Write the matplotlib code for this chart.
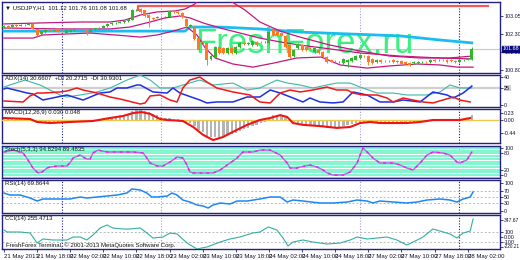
import matplotlib
matplotlib.use('Agg')
import matplotlib.pyplot as plt
import matplotlib.transforms as mtransforms
import numpy as np

# ---------------- data ----------------
opens = [102.59,102.63,102.61,102.68,102.64,102.69,102.68,102.72,102.50,102.30,
         102.38,102.47,102.45,102.47,102.43,102.36,102.40,102.46,102.48,102.47,
         102.47,102.38,102.49,102.53,102.55,102.63,102.71,102.75,102.77,102.79,
         102.84,102.90,103.30,103.34,103.28,103.09,102.97,102.98,103.01,103.00,
         103.01,103.24,103.22,103.18,102.93,102.65,102.59,102.13,101.97,101.93,
         101.26,101.30,101.76,101.72,101.51,101.72,101.51,101.76,101.93,101.88,
         101.84,101.97,101.97,101.95,101.93,102.47,102.43,102.34,102.22,101.84,
         101.38,101.72,101.84,101.76,101.72,101.55,101.63,101.55,101.34,101.22,
         101.18,101.13,101.09,101.13,101.18,101.22,101.30,101.38,101.38,101.26,
         101.13,101.22,101.18,101.18,101.22,101.18,101.18,101.13,101.09,101.09,
         101.09,101.13,101.13,101.13,101.22,101.20,101.22,101.22,101.22,101.18,
         101.13,101.22,101.23,101.26]
closes = [102.63,102.59,102.68,102.64,102.69,102.68,102.70,102.50,102.27,102.42,
          102.47,102.45,102.47,102.43,102.40,102.47,102.46,102.49,102.47,102.46,
          102.35,102.49,102.53,102.55,102.63,102.71,102.75,102.77,102.80,102.86,
          102.92,103.30,103.31,103.22,103.05,102.97,102.93,103.01,103.00,103.02,
          103.26,103.22,103.18,103.01,102.63,102.67,102.09,101.63,101.93,101.22,
          101.38,101.76,101.51,101.51,101.72,101.51,101.76,101.93,101.88,101.92,
          102.01,101.84,101.95,101.97,102.38,102.26,102.26,102.22,101.76,101.34,
          101.63,101.88,101.63,101.63,101.70,101.72,101.51,101.34,101.13,101.15,
          101.17,101.15,101.26,101.22,101.30,101.38,101.43,101.37,101.13,101.09,
          101.22,101.13,101.17,101.19,101.13,101.13,101.05,101.05,101.01,101.13,
          101.13,101.14,101.12,101.22,101.18,101.22,101.21,101.13,101.18,101.13,
          101.22,101.23,101.26,101.68]
highs = [102.66,102.66,102.70,102.71,102.72,102.72,102.73,102.75,102.52,102.45,
         102.50,102.50,102.50,102.49,102.46,102.50,102.49,102.52,102.50,102.49,
         102.49,102.51,102.56,102.58,102.66,102.74,102.78,102.80,102.83,102.89,
         102.95,103.33,103.36,103.38,103.30,103.12,103.00,103.04,103.04,103.05,
         103.29,103.27,103.25,103.21,102.97,102.71,102.63,102.17,102.01,101.97,
         101.42,101.80,101.80,101.76,101.76,101.76,101.80,101.97,101.97,101.95,
         102.05,102.01,102.00,102.00,102.43,102.51,102.47,102.38,102.26,101.88,
         101.67,101.92,101.88,101.80,101.75,101.76,101.67,101.59,101.38,101.25,
         101.21,101.18,101.30,101.26,101.34,101.42,101.47,101.41,101.42,101.30,
         101.26,101.25,101.21,101.22,101.25,101.21,101.21,101.16,101.12,101.16,
         101.16,101.17,101.16,101.25,101.25,101.25,101.24,101.25,101.25,101.21,
         101.25,101.26,101.29,101.76]
lows = [102.56,102.55,102.58,102.61,102.62,102.65,102.66,102.45,102.22,102.27,
        102.35,102.42,102.43,102.40,102.37,102.34,102.38,102.44,102.45,102.44,
        102.26,102.36,102.47,102.51,102.53,102.61,102.69,102.73,102.75,102.77,
        102.82,102.88,103.27,103.18,102.99,102.59,102.88,102.95,102.97,102.97,
        102.99,103.19,103.15,102.97,102.59,102.60,102.05,101.59,101.84,101.01,
        101.20,101.28,101.47,101.47,101.47,101.47,101.47,101.72,101.84,101.85,
        101.80,101.80,101.92,101.92,101.90,102.22,102.22,102.18,101.72,101.30,
        101.34,101.68,101.59,101.59,101.67,101.51,101.47,101.30,101.09,101.12,
        101.14,101.10,101.05,100.92,101.15,101.20,101.27,101.34,101.02,101.05,
        101.10,101.10,101.14,101.15,101.10,101.10,101.02,101.02,100.98,101.06,
        101.06,101.10,101.09,101.10,101.15,101.17,101.18,101.10,101.15,101.09,
        101.10,101.19,101.20,101.23]

ub_bar = [0, 8.7, 18.4, 25.6, 29.2, 32.9, 37.0, 41.3, 43.7, 46.1, 48.1, 50.5, 53.1, 55.1,
          58.2, 61.8, 66.7, 71.5, 78.7, 86.0, 93.2, 100.5, 107.7, 113.0]
ub_val = [102.72, 102.76, 102.80, 102.80, 102.88, 103.09, 103.22, 103.26, 103.34, 103.55,
          103.88, 104.40, 103.88, 103.63, 103.30, 102.80, 102.42, 102.17, 101.84, 101.59,
          101.38, 101.30, 101.30, 101.38]
mb_bar = [0, 13.5, 25.6, 30.4, 35.3, 38.9, 42.5, 44.9, 48.1, 52.2, 57.0, 61.8, 66.7, 71.5,
          78.7, 86.0, 95.7, 105.3, 113.0]
mb_val = [102.55, 102.51, 102.51, 102.59, 102.80, 102.97, 103.05, 102.97, 102.76, 102.55,
          102.34, 102.13, 101.97, 101.84, 101.68, 101.51, 101.38, 101.30, 101.26]
lb_bar = [0, 7.0, 9.4, 20.8, 29.7, 32.9, 37.0, 40.8, 44.2, 46.6, 48.6, 51.0, 55.3, 60.1,
          65.2, 70.7, 76.6, 81.2, 87.7, 93.2, 99.8, 105.3, 109.4, 113.3]
lb_val = [102.13, 102.13, 102.26, 102.34, 102.22, 102.17, 102.26, 102.42, 102.59, 102.26,
          101.72, 101.30, 101.05, 100.92, 101.09, 101.30, 101.34, 101.01, 100.88, 100.97,
          101.05, 101.01, 100.92, 100.92]
ma_bar = [0, 43.7, 44.9, 52.2, 61.8, 71.5, 83.6, 95.7, 105.3, 113.0]
ma_val = [102.42, 102.42, 102.59, 102.59, 102.51, 102.38, 102.30, 102.22, 102.05, 101.93]
lvl_bar = [32.4, 32.4, 117.0]
lvl_val = [103.30, 103.47, 103.47]
last_price = 101.68
price_ticks = [103.05, 102.30, 101.55, 100.80]

adx_bar = [0, 1.4, 5.1, 8.7, 13.5, 15.2, 18.4, 22.5, 25.6, 29.7, 32.9, 35.3, 37.7, 40.8, 43.2,
           47.3, 50.5, 55.3, 58.7, 61.8, 65.9, 68.4, 71.5, 74.6, 78.0, 80.4, 83.6, 86.0, 90.1,
           94.0, 97.3, 102.2, 105.3, 107.7, 110.1, 113.0]
adx_val = [25.7, 28.6, 35.7, 28.6, 14.3, 11.4, 14.3, 18.6, 24.3, 35.7, 42.9, 35.7, 24.3, 24.3,
           28.6, 35.7, 28.6, 31.4, 21.4, 24.3, 35.7, 31.4, 28.6, 24.3, 28.6, 31.4, 31.4, 25.7,
           17.1, 17.1, 14.3, 14.3, 18.6, 28.6, 24.3, 24.3]
pdi_bar = [0, 0.7, 2.7, 5.6, 7.0, 9.4, 15.2, 19.1, 23.2, 25.6, 27.3, 29.7, 32.1, 32.9, 36.0,
           39.4, 40.8, 42.5, 47.3, 49.0, 51.4, 55.3, 58.7, 61.8, 64.3, 66.7, 69.8, 72.2, 73.9,
           76.3, 79.5, 81.9, 84.3, 87.7, 90.8, 94.0, 96.4, 100.5, 103.6, 107.0, 108.5, 110.9, 113.0]
pdi_val = [22.9, 24.3, 21.4, 17.1, 15.7, 7.1, 14.3, 7.1, 17.1, 18.6, 24.3, 24.3, 28.6, 28.6,
           18.6, 17.1, 24.3, 17.1, 7.1, 2.9, 4.3, 4.3, 11.4, 11.4, 21.4, 17.1, 10.0, 4.3, 10.0,
           4.3, 2.9, 4.3, 18.6, 14.3, 4.3, 4.3, 7.1, 4.3, 18.6, 14.3, 10.0, 17.1, 27.1]
mdi_bar = [0, 4.6, 6.3, 8.0, 9.4, 13.5, 15.2, 17.6, 19.1, 22.5, 25.6, 28.0, 32.9, 34.1, 35.3,
           37.7, 40.1, 41.8, 43.2, 44.9, 47.3, 49.0, 51.4, 55.3, 59.4, 61.8, 64.3, 66.7, 69.1,
           71.5, 74.6, 78.0, 80.4, 82.9, 84.3, 86.7, 90.1, 92.5, 94.0, 96.4, 98.8, 101.2, 103.6,
           108.5, 110.1, 112.6]
mdi_val = [5.7, 4.3, 12.9, 17.1, 17.1, 18.6, 20.0, 24.3, 21.4, 17.1, 11.4, 8.6, 1.4, 2.9, 12.9,
           14.3, 7.1, 4.3, 24.3, 35.7, 40.0, 32.9, 24.3, 18.6, 14.3, 4.3, 2.9, 17.1, 21.4, 18.6,
           21.4, 25.7, 21.4, 21.4, 17.1, 14.3, 14.3, 10.0, 4.3, 10.0, 7.1, 4.3, 2.9, 11.4, 7.1, 4.3]

macd_hist = [0.07,0.07,0.06,0.06,0.05,0.05,0.04,
             -0.04,-0.10,-0.11,-0.10,-0.09,-0.08,-0.07,
             -0.06,-0.05,-0.04,-0.03,-0.03,-0.03,-0.05,
             -0.03,-0.01,0.01,0.04,0.07,0.10,0.13,
             0.15,0.18,0.21,0.28,0.32,0.33,0.30,
             0.25,0.20,0.15,0.10,0.06,0.06,0.04,
             0.02,0.00,-0.06,-0.10,-0.20,-0.32,-0.40,
             -0.52,-0.56,-0.55,-0.55,-0.54,-0.50,-0.47,
             -0.42,-0.36,-0.30,-0.25,-0.20,-0.15,-0.10,
             -0.05,0.08,0.16,0.18,0.17,0.10,-0.03,
             -0.08,-0.10,-0.14,-0.16,-0.18,-0.19,-0.21,
             -0.23,-0.25,-0.25,-0.24,-0.22,-0.19,-0.16,
             -0.13,-0.10,-0.08,-0.07,-0.09,-0.11,-0.10,
             -0.10,-0.09,-0.08,-0.09,-0.09,-0.10,-0.10,
             -0.11,-0.09,-0.08,-0.07,-0.06,-0.04,-0.03,
             -0.02,-0.01,-0.02,-0.02,-0.03,-0.01,0.00,
             0.02,0.15]
sig_bar = [0, 6.3, 8.0, 11.1, 15.9, 21.5, 25.6, 28.7, 31.2, 33.3, 35.3, 37.7, 39.4, 43.2, 45.7,
           48.1, 50.5, 52.9, 55.3, 58.7, 61.8, 64.3, 66.7, 68.4, 69.8, 72.2, 76.3, 80.4, 83.6,
           86.0, 88.4, 90.8, 94.0, 97.3, 100.5, 103.6, 110.1, 112.6]
sig_val = [0.066, 0.033, -0.066, -0.099, -0.066, -0.033, 0.066, 0.13, 0.23, 0.26, 0.20, 0.033,
           0.0, -0.033, -0.23, -0.49, -0.66, -0.56, -0.39, -0.16, 0.0, 0.066, 0.16, 0.10, -0.10,
           -0.16, -0.20, -0.26, -0.23, -0.10, -0.066, -0.10, -0.10, -0.10, -0.066, 0.0, 0.0, 0.066]

st_bar = [0, 2.2, 4.6, 5.8, 7.0, 8.2, 9.2, 10.4, 11.1, 12.8, 15.2, 15.9, 16.7, 18.4, 19.1, 20.0,
          20.8, 21.5, 22.7, 24.9, 27.3, 31.2, 33.6, 34.5, 35.3, 37.0, 38.4, 40.1, 41.8, 43.2,
          44.2, 44.9, 45.7, 47.3, 50.5, 52.2, 54.6, 56.3, 57.7, 60.1, 61.8, 64.3, 66.7, 68.4,
          69.1, 70.8, 71.5, 73.9, 75.6, 77.1, 78.0, 79.5, 81.9, 83.6, 85.3, 86.0, 86.7, 87.7,
          89.1, 90.8, 94.0, 95.7, 97.3, 98.8, 100.5, 102.2, 103.6, 106.0, 107.7, 109.4, 110.1,
          111.8, 113.0]
st_val = [85.2, 92.6, 81.5, 55.6, 25.9, 7.4, 11.1, 25.9, 29.6, 33.3, 33.3, 44.4, 63.0, 74.1,
          66.7, 59.3, 59.3, 81.5, 92.6, 85.2, 85.2, 85.2, 81.5, 63.0, 44.4, 33.3, 33.3, 48.1,
          66.7, 63.0, 37.0, 11.1, 7.4, 7.4, 7.4, 18.5, 44.4, 63.0, 85.2, 85.2, 92.6, 92.6, 74.1,
          44.4, 25.9, 25.9, 29.6, 37.0, 29.6, 18.5, 7.4, 0.0, 0.0, 11.1, 44.4, 74.1, 100.0, 85.2,
          63.0, 44.4, 44.4, 37.0, 25.9, 18.5, 44.4, 74.1, 85.2, 81.5, 74.1, 48.1, 44.4, 55.6, 85.2]

rsi_bar = [0, 1.4, 3.9, 6.3, 8.0, 9.4, 11.1, 14.3, 15.9, 18.4, 20.0, 22.5, 24.9, 27.3, 29.7,
           30.9, 32.9, 34.5, 35.7, 37.0, 39.4, 40.6, 41.8, 43.2, 44.9, 46.6, 48.1, 49.3, 50.5,
           52.2, 54.6, 56.3, 58.7, 61.8, 64.3, 66.7, 68.4, 69.8, 72.2, 76.3, 79.5, 82.9, 85.3,
           87.7, 89.1, 90.8, 94.0, 97.3, 99.8, 102.2, 105.3, 107.7, 109.4, 110.9, 112.6, 113.3]
rsi_val = [64.3, 57.1, 57.1, 46.4, 35.7, 42.9, 42.9, 42.9, 42.9, 50.0, 46.4, 50.0, 53.6, 57.1,
           64.3, 78.6, 75.0, 64.3, 50.0, 50.0, 53.6, 64.3, 57.1, 39.3, 32.1, 21.4, 17.9, 10.7,
           21.4, 28.6, 25.0, 35.7, 35.7, 42.9, 50.0, 50.0, 32.1, 39.3, 35.7, 28.6, 28.6, 32.1,
           39.3, 35.7, 28.6, 35.7, 32.1, 28.6, 32.1, 39.3, 42.9, 39.3, 32.1, 42.9, 50.0, 67.9]

cci_bar = [0, 0.7, 3.9, 6.3, 8.0, 9.4, 11.8, 15.2, 16.7, 18.4, 20.0, 21.5, 23.2, 24.9, 26.3,
           28.7, 30.4, 32.9, 34.5, 36.0, 38.4, 40.1, 41.8, 44.2, 46.6, 49.0, 52.2, 54.6, 57.0,
           60.1, 61.8, 63.8, 65.9, 67.4, 68.6, 69.8, 72.2, 74.6, 78.0, 81.2, 83.6, 85.3, 87.7,
           90.1, 92.5, 94.9, 97.3, 99.8, 101.2, 103.6, 105.3, 107.7, 109.4, 110.9, 112.6, 113.3]
cci_val = [140, 100, 100, 80, -120, -40, -60, -60, 0, 0, -60, 40, 180, 240, 180, 160, 160, 180,
           80, -20, 0, 80, 60, -120, -240, -200, -100, -40, 0, 80, 100, 200, 140, -20, -180,
           -100, -60, -100, -140, -120, -60, 0, -40, -20, 0, -60, -160, -60, 0, 160, 120, 60,
           -20, 80, 120, 360]
cci_ticks = [347.67, 100, 0, -100, -190]
cci_tick_labels = ['347.67', '100', '0.00', '-100', '-220.21']

time_tick_bars = [0, 8, 16, 24, 32, 40, 48, 56, 64, 72, 80, 88, 96, 104, 112]
time_tick_labels = ['21 May 2013', '21 May 18:00', '22 May 02:00', '22 May 10:00',
                    '22 May 18:00', '23 May 02:00', '23 May 10:00', '23 May 18:00',
                    '24 May 02:00', '24 May 10:00', '24 May 18:00', '27 May 02:00',
                    '27 May 10:00', '27 May 18:00', '28 May 02:00']
day_sep_dark = [14, 110]
day_sep_light = [38, 86]

# ---------------- style ----------------
W, H = 520, 260
FS = 4.3
FSY = 3.9
FONT = ['Liberation Sans Narrow', 'Liberation Sans', 'DejaVu Sans']
FRAME = '#23237e'
GREEN = '#2db82d'
ORANGE = '#ff7a1e'
plt.rcParams['font.family'] = FONT

fig = plt.figure(figsize=(W / 100, H / 100), dpi=100)
fig.patch.set_facecolor('white')

XLO, XHI = -0.48, 119.8


def panel(top, bottom):
    ax = fig.add_axes([2 / W, 1 - bottom / H, 498 / W, (bottom - top) / H])
    ax.set_xlim(XLO, XHI)
    for s in ax.spines.values():
        s.set_color(FRAME)
        s.set_linewidth(1.0)
    ax.yaxis.tick_right()
    ax.tick_params(axis='y', direction='out', length=2, width=0.6, colors=FRAME,
                   labelsize=FSY, pad=1, labelcolor='#101030')
    ax.set_xticks([])
    for b in day_sep_dark:
        ax.axvline(b, color='#1a1a8a', lw=0.8, ls=(0, (1, 1.5)), zorder=1)
    for b in day_sep_light:
        ax.axvline(b, color='#9c9cdc', lw=0.8, ls=(0, (1, 1.5)), zorder=1)
    return ax


def title(ax, txt):
    ax.text(0.006, 0.96, txt, transform=ax.transAxes, fontsize=FS, va='top', ha='left',
            color='#101010', zorder=10)


# ---------------- main price panel ----------------
ax = panel(2, 73)
ax.set_ylim(100.675, 103.633)
o = np.array(opens); c = np.array(closes); h = np.array(highs); l = np.array(lows)
xb = np.arange(len(o))
up = c >= o
cols = np.where(up, GREEN, ORANGE)
ax.text(0.388, 0.282, 'FreshForex.ru', transform=ax.transAxes, fontsize=25,
        family='Liberation Sans', color='#3af07e', va='baseline', ha='left', zorder=2)
ax.axhline(last_price, color='#c8c8c8', lw=0.8, zorder=1)
ax.plot(ma_bar, ma_val, color='#19bdf0', lw=2.0, zorder=3)
ax.plot(lvl_bar, lvl_val, color='#f25a5a', lw=1.6, zorder=3)
for bb, vv in ((ub_bar, ub_val), (mb_bar, mb_val), (lb_bar, lb_val)):
    ax.plot(bb, vv, color='#c2187e', lw=0.9, zorder=4)
ax.vlines(xb, l, h, colors=cols, lw=0.7, zorder=5)
ax.bar(xb, np.maximum(np.abs(c - o), 0.012), bottom=np.minimum(o, c), width=0.72,
       color=cols, linewidth=0, zorder=6)
ax.set_yticks(price_ticks)
ax.set_yticklabels([f'{v:.2f}' for v in price_ticks])
trans = mtransforms.blended_transform_factory(ax.transAxes, ax.transData)
ax.text(1.005, last_price, f'{last_price:.2f}', transform=trans, fontsize=FSY, color='white',
        va='center', ha='left', zorder=20,
        bbox=dict(boxstyle='square,pad=0.12', fc='#0a0a78', ec='#0a0a78'))
title(ax, '\u25bc USDJPY,H1  101.12 101.76 101.08 101.68')

# ---------------- ADX ----------------
ax = panel(75, 107)
ax.set_ylim(-2.9, 42.9)
ax.axhline(25, color='#cfcfcf', lw=1.6, zorder=1)
ax.plot(adx_bar, adx_val, color='#3cb7a8', lw=0.8, zorder=3)
ax.plot(pdi_bar, pdi_val, color='#1f2fe0', lw=1.1, zorder=4)
ax.plot(mdi_bar, mdi_val, color='#f01818', lw=1.1, zorder=4)
ax.set_yticks([40, 25, 0])
ax.set_yticklabels(['40', '25', '0'])
ax.get_yticklabels()[1].set_bbox(dict(boxstyle='square,pad=0.1', fc='#d0d0d0', ec='none'))
title(ax, 'ADX(14) 30.6607  +DI 20.2715  -DI 30.9301')

# ---------------- MACD ----------------
ax = panel(109, 143)
ax.set_ylim(-0.757, 0.362)
ax.bar(xb, macd_hist, width=0.55, color='#b4b4b4', linewidth=0, zorder=2)
ax.axhline(0, color='#ecc94a', lw=1.0, zorder=3)
ax.plot(sig_bar, sig_val, color='#f01414', lw=1.5, zorder=4)
ax.set_yticks([0.23, 0.0, -0.44])
ax.set_yticklabels(['0.23', '0.00', '-0.44'])
title(ax, 'MACD(12,26,9) 0.030 0.048')

# ---------------- Stochastic ----------------
ax = panel(146, 178)
ax.set_ylim(-11.1, 107.4)
for lv in range(-10, 111, 10):
    ax.axhline(lv, color='#86f5cf', lw=1.5, zorder=1)
ax.plot(st_bar, st_val, color='#b46ad8', lw=1.0, zorder=3)
ax.plot(st_bar, st_val, color='#ff10ff', lw=1.0, ls=(0, (2, 3)), zorder=4)
ax.set_yticks([100, 80, 20, 0])
ax.set_yticklabels(['100', '80', '20', '0'])
title(ax, 'Stoch(5,3,3) 94.8294 89.4835')

# ---------------- RSI ----------------
ax = panel(180, 213)
ax.set_ylim(-7.1, 110.7)
for lv in (70, 50, 30):
    ax.axhline(lv, color='#b8b8b8', lw=0.7, ls=(0, (2, 2)), zorder=1)
ax.plot(rsi_bar, rsi_val, color='#1e88f0', lw=1.1, zorder=3)
ax.set_yticks([100, 70, 50, 30, 0])
ax.set_yticklabels(['100', '70', '50', '30', '0'])
title(ax, 'RSI(14) 69.8644')

# ---------------- CCI ----------------
ax = panel(215, 249)
ax.set_ylim(-240, 440)
for lv in (100, -100):
    ax.axhline(lv, color='#b8b8b8', lw=0.7, ls=(0, (2, 2)), zorder=1)
ax.plot(cci_bar, cci_val, color='#30b0a0', lw=0.8, zorder=3)
ax.set_yticks(cci_ticks)
ax.set_yticklabels(cci_tick_labels)
ax.get_yticklabels()[-1].set_fontsize(3.4)
ax.get_yticklabels()[0].set_fontsize(3.6)
title(ax, 'CCI(14) 255.4713')
ax.text(0.008, 0.04, 'FreshForex Terminal, \u00a9 2001-2013 MetaQuotes Software Corp.',
        transform=ax.transAxes, fontsize=FS, va='bottom', ha='left', color='#101010', zorder=10)
ax.set_xticks(time_tick_bars)
ax.set_xticklabels(time_tick_labels, ha='left')
ax.tick_params(axis='x', direction='out', length=2, width=0.6, colors=FRAME,
               labelsize=FS, pad=1.5, labelcolor='#101030')

fig.savefig('out.png', dpi=100, facecolor='white')
